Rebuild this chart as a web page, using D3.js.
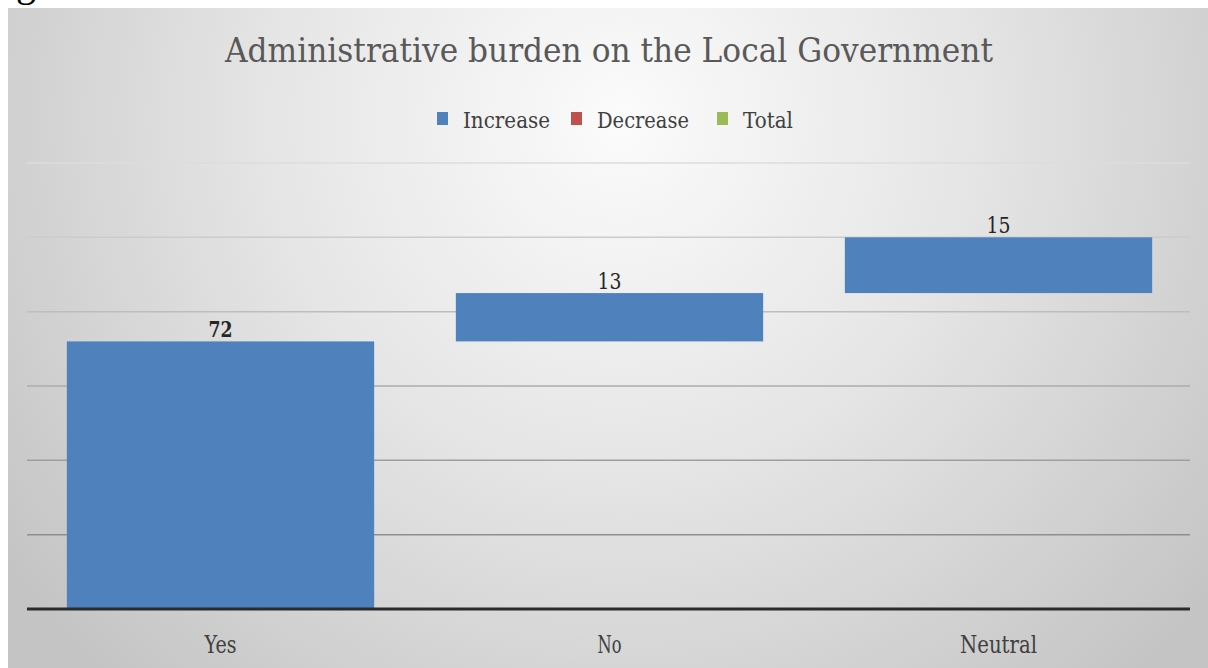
<!DOCTYPE html>
<html>
<head>
<meta charset="utf-8">
<script src="https://d3js.org/d3.v7.min.js"></script>
<style>
  body { margin: 0; background: #fff; }
  svg { display: block; }
</style>
</head>
<body>
<svg id="chart" width="1208" height="668"></svg>
<script>
var categories = ["Yes", "No", "Neutral"];
var values = [72, 13, 15];
var legendNames = ["Increase", "Decrease", "Total"];
var legendColors = ["#4f81bd", "#c0504d", "#9bbb59"];
var yTicks = [0, 20, 40, 60, 80, 100, 120];
var title = "Administrative burden on the Local Government";

var width = 1208, height = 668;
var serif = "DejaVu Serif, serif";
var svg = d3.select("#chart");

// background gradient like the office chart area
var defs = svg.append("defs");
var grad = defs.append("radialGradient")
  .attr("id", "bg")
  .attr("gradientUnits", "userSpaceOnUse")
  .attr("cx", 620).attr("cy", 120).attr("r", 760);
grad.append("stop").attr("offset", "0%").attr("stop-color", "#fbfbfb");
grad.append("stop").attr("offset", "45%").attr("stop-color", "#e6e6e6");
grad.append("stop").attr("offset", "100%").attr("stop-color", "#c4c4c4");

// cut off text from the page above
svg.append("text")
  .attr("x", 16).attr("y", -4)
  .attr("font-family", "Liberation Serif, serif")
  .attr("font-size", 40)
  .attr("fill", "#000")
  .text("g");

svg.append("rect")
  .attr("x", 8).attr("y", 8)
  .attr("width", width - 8).attr("height", height - 8)
  .attr("fill", "url(#bg)");

// waterfall steps
var steps = [];
var run = 0;
values.forEach(function (v, i) {
  steps.push({ cat: categories[i], start: run, end: run + v, value: v });
  run += v;
});

var x = d3.scaleBand()
  .domain(categories)
  .range([26, 1193])
  .paddingInner(0.21)
  .paddingOuter(0.105);

var y = d3.scaleLinear()
  .domain([0, 120])
  .range([609, 163]);

var gridColor = d3.scaleLinear()
  .domain([20, 120])
  .range(["#8e8e8e", "#dcdcdc"]);

// gridlines
svg.append("g")
  .selectAll("line")
  .data(yTicks.filter(function (d) { return d > 0; }))
  .join("line")
  .attr("x1", 27).attr("x2", 1190)
  .attr("y1", function (d) { return y(d); })
  .attr("y2", function (d) { return y(d); })
  .attr("stroke", function (d) { return gridColor(d); })
  .attr("stroke-width", 1.5);

// bars
svg.append("g")
  .selectAll("rect")
  .data(steps)
  .join("rect")
  .attr("x", function (d) { return x(d.cat); })
  .attr("width", x.bandwidth())
  .attr("y", function (d) { return y(d.end); })
  .attr("height", function (d) { return y(d.start) - y(d.end); })
  .attr("fill", legendColors[0]);

// data labels
svg.append("g")
  .selectAll("text")
  .data(steps)
  .join("text")
  .attr("x", function (d) { return x(d.cat) + x.bandwidth() / 2; })
  .attr("y", function (d) { return y(d.end) - 4; })
  .attr("text-anchor", "middle")
  .attr("font-family", serif)
  .attr("font-size", 23)
  .attr("font-weight", function (d, i) { return i === 0 ? "bold" : "normal"; })
  .attr("fill", "#262626")
  .attr("textLength", 24)
  .attr("lengthAdjust", "spacingAndGlyphs")
  .text(function (d) { return d.value; });

// x axis
var xAxis = svg.append("g")
  .attr("transform", "translate(0," + y(0) + ")")
  .call(d3.axisBottom(x).tickSize(0).tickPadding(27));
xAxis.select(".domain")
  .attr("d", "M27,0H1190")
  .attr("stroke", "#2b2b2b")
  .attr("stroke-width", 3);
var tickW = { "Yes": 32, "No": 24, "Neutral": 77 };
xAxis.selectAll("text")
  .attr("font-family", serif)
  .attr("font-size", 24)
  .attr("fill", "#404040")
  .attr("textLength", function (d) { return tickW[d]; })
  .attr("lengthAdjust", "spacingAndGlyphs");

// title
svg.append("text")
  .attr("x", 609).attr("y", 62)
  .attr("text-anchor", "middle")
  .attr("font-family", serif)
  .attr("font-size", 33)
  .attr("fill", "#595959")
  .attr("textLength", 768)
  .attr("lengthAdjust", "spacingAndGlyphs")
  .text(title);

// legend
var legendX = [437, 571, 717];
var legendW = [87, 92, 50];
var lg = svg.append("g")
  .selectAll("g")
  .data(legendNames)
  .join("g")
  .attr("transform", function (d, i) { return "translate(" + legendX[i] + ",112)"; });
lg.append("rect")
  .attr("width", 11).attr("height", 13)
  .attr("fill", function (d, i) { return legendColors[i]; });
lg.append("text")
  .attr("x", 26).attr("y", 16)
  .attr("font-family", serif)
  .attr("font-size", 23)
  .attr("fill", "#404040")
  .attr("textLength", function (d, i) { return legendW[i]; })
  .attr("lengthAdjust", "spacingAndGlyphs")
  .text(function (d) { return d; });
</script>
</body>
</html>
